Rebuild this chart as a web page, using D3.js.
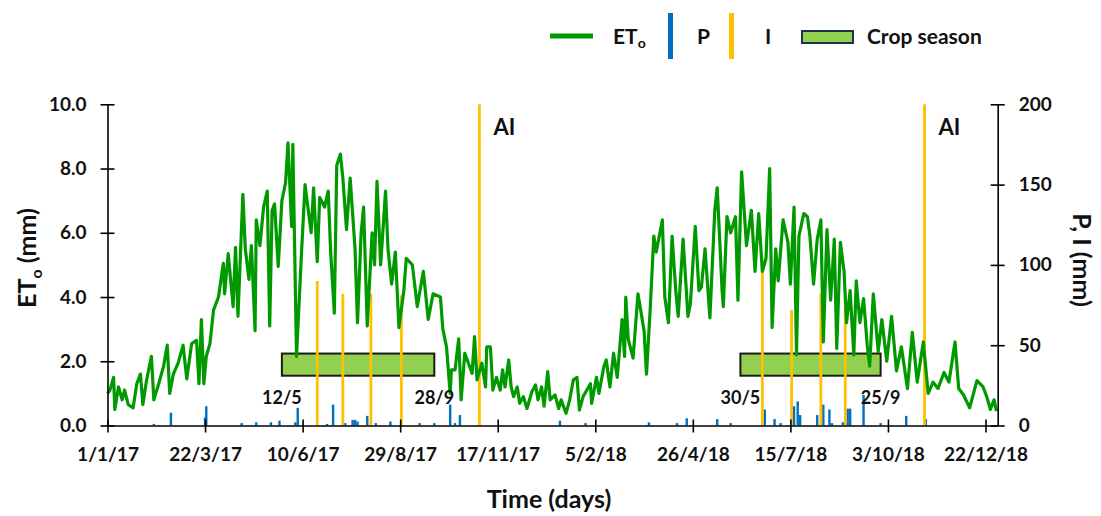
<!DOCTYPE html>
<html>
<head>
<meta charset="utf-8">
<script src="https://cdn.jsdelivr.net/npm/d3@7"></script>
<style>
  body { margin: 0; background: #fff; }
  svg { font-family: Lato, "Open Sans", sans-serif; font-weight: bold; }
</style>
</head>
<body>
<svg class="chart" width="1101" height="516"></svg>
<script>
// days counted from 1/1/2017
const eto2017 = [
  [0,1.0],[2,1.1],[5,1.5],[6,0.5],[9,1.2],[12,0.8],[14,1.1],[17,0.65],[21,0.55],[24,1.3],[27,1.6],[29,0.65],
  [32,1.4],[36,2.15],[38,0.8],[42,1.3],[46,1.85],[49,2.5],[51,1.0],[54,1.6],[58,1.95],[62,2.5],[65,1.45],
  [69,2.55],[73,2.65],[75,1.3],[77,3.3],[79,1.3],[81,2.15],[84,2.55],[87,3.6],[91,4.0],[95,5.05],[96,4.1],
  [99,5.35],[103,3.7],[105,5.55],[107,3.4],[111,7.2],[113,5.5],[116,4.55],[118,5.6],[121,2.95],[122,6.4],
  [125,5.6],[128,6.8],[131,7.3],[133,3.1],[135,6.7],[137,6.9],[140,4.95],[143,7.0],[146,7.55],[148,8.8],
  [151,6.2],[152,8.75],[155,2.15],[159,5.3],[162,7.5],[167,6.0],[169,7.4],[172,5.1],[174,7.1],[178,6.8],
  [181,7.3],[183,5.4],[186,3.5],[188,8.1],[191,8.45],[193,7.7],[196,6.1],[199,7.7],[203,5.5],[205,3.2],
  [208,6.0],[210,6.8],[213,3.1],[217,6.0],[219,5.0],[221,7.6],[224,5.0],[228,7.3],[230,5.5],[233,4.4],
  [236,5.4],[239,3.05],[243,4.2],[245,5.2],[250,5.0],[254,3.7],[259,4.8],[263,3.3],[267,4.1],[273,4.0],
  [275,3.0],[278,2.45],[281,1.0],[282,1.73],[285,1.73],[288,2.7],[290,0.8],[293,2.25],[296,1.94],[299,1.62],
  [301,2.77],[303,1.42],[307,1.94],[310,1.2],[311,2.45],[314,2.45],[316,1.1],[319,1.5],[322,1.1],[324,1.73],
  [326,1.2],[329,2.04],[331,1.2],[333,0.9],[336,1.2],[338,0.69],[341,0.9],[344,0.53],[348,1.05],[351,1.26],
  [353,0.8],[356,1.2],[358,0.6],[361,1.68],[363,0.8]
];
const eto2018 = [
  [367,0.95],[370,0.53],[372,0.8],[376,0.38],[379,0.8],[382,1.42],[385,1.5],[387,0.48],[390,0.9],[393,1.1],
  [396,1.3],[397,0.69],[401,1.5],[403,1.0],[407,1.83],[409,2.04],[412,1.2],[415,2.25],[418,1.5],[422,3.3],
  [424,2.15],[425,4.0],[427,2.7],[431,2.1],[435,4.1],[440,2.95],
  [442,1.6],[445,3.6],[448,5.9],[450,5.4],[455,6.4],[457,4.0],[460,3.2],[463,5.9],[466,4.2],[468,3.4],
  [472,5.8],[476,3.4],[478,3.8],[482,6.2],[485,4.2],[487,4.3],[490,5.5],[494,3.35],[498,6.7],[500,7.4],
  [504,4.2],[505,3.7],[508,6.5],[511,6.0],[515,6.5],[517,3.9],[520,7.9],[524,5.6],[528,6.7],[531,4.8],
  [534,6.6],[537,4.8],[540,5.2],[543,8.0],[545,3.05],[548,5.5],[550,4.5],[554,6.4],[558,5.7],[560,4.4],
  [563,6.8],[565,2.2],[567,5.9],[571,6.6],[574,6.5],[576,5.9],[579,4.4],[582,5.8],[585,6.4],[587,2.6],
  [590,6.1],[593,3.9],[596,5.8],[598,2.4],[601,5.7],[604,4.8],[606,3.2],[609,4.2],[612,2.2],[614,4.5],
  [617,3.2],[620,3.95],[623,2.5],[625,1.85],[628,4.1],[632,2.3],[635,3.3],[639,2.0],[643,3.4],[647,1.7],
  [651,2.45],[656,1.15],[660,2.9],[664,1.35],[669,2.6],[673,1.0],[677,1.35],[681,1.15],[686,1.65],[690,1.35],
  [695,2.6],[698,1.15],[702,0.95],[707,0.55],[713,1.4],[718,1.2],[721,0.9],[724,0.5],[727,0.8],[729,0.45]
];
const rainDay = [38,52,80,81,110,122,134,141,154,156,180,185,195,201,203,205,213,220,232,256,268,281,285,289,
  371,392,444,467,475,500,511,539,547,552,563,566,568,582,587,592,594,603,607,609,620,634,655,671];
const rainMm = [1,8,5,12,1.5,2,2,3,2,11,1,13,1.5,3.5,3.5,2.5,6,1.5,2.5,1.5,1.5,13,1.5,6.5,
  3,1.5,2,1.5,4.5,4,1.5,10,4,1.5,12,15,6.5,6.5,13,10,1.5,2,10.5,10.5,19,1.5,6,4];
const irrDay = [172,193,216,241,305,537,561,585,605,670];
const irrMm = [90,82,82,81,200,100,72,82,74,200];
const seasonStart = [143,519], seasonEnd = [268,634];
const seasonStartLabel = ["12/5","30/5"], seasonEndLabel = ["28/9","25/9"];
const xTickDays = [0,80,160,240,320,400,480,560,640,720];
const yLeftTicks = [0,2,4,6,8,10], yRightTicks = [0,50,100,150,200];

const margin = { top: 104.3, left: 107.5 };
const width = 890.2, height = 321.2;
const day0 = Date.UTC(2017,0,1);
const toDate = d => new Date(day0 + d * 864e5);

const svg = d3.select(".chart").append("g")
  .attr("transform", "translate(" + margin.left + "," + margin.top + ")");

const x = d3.scaleUtc().domain([toDate(0), toDate(730)]).range([0, width]);
const yL = d3.scaleLinear().domain([0,10]).range([height, 0]);
const yR = d3.scaleLinear().domain([0,200]).range([height, 0]);

// crop season boxes
svg.selectAll(".season").data(seasonStart).enter().append("rect")
  .attr("x", (d) => x(toDate(d)))
  .attr("width", (d, i) => x(toDate(seasonEnd[i])) - x(toDate(d)))
  .attr("y", yL(2.24)).attr("height", yL(1.55) - yL(2.24))
  .attr("fill", "#92D050").attr("stroke", "#1a1a1a").attr("stroke-width", 2);

// precipitation
svg.selectAll(".rain").data(rainDay).enter().append("rect")
  .attr("x", d => x(toDate(d)) - 1.2).attr("width", 2.4)
  .attr("y", (d, i) => yR(rainMm[i])).attr("height", (d, i) => height - yR(rainMm[i]))
  .attr("fill", "#0070C0");

// irrigation
svg.selectAll(".irr").data(irrDay).enter().append("rect")
  .attr("x", d => x(toDate(d)) - 1.4).attr("width", 2.8)
  .attr("y", (d, i) => yR(irrMm[i])).attr("height", (d, i) => height - yR(irrMm[i]))
  .attr("fill", "#FFC000");

// ETo line
const line0 = d3.line().x(d => x(toDate(d[0]))).y(d => yL(d[1]));
svg.append("path").datum(eto2017.concat(eto2018))
  .attr("d", line0).attr("fill", "none")
  .attr("stroke", "#009A00").attr("stroke-width", 3.2).attr("stroke-linejoin", "round");

// axes
const xAxis = svg.append("g").attr("transform", "translate(0," + height + ")")
  .call(d3.axisBottom(x).tickValues(xTickDays.map(toDate))
    .tickFormat(d3.utcFormat("%-d/%-m/%y")).tickSize(7).tickSizeOuter(0));
xAxis.selectAll(".tick line").attr("y1", -6);
xAxis.selectAll(".tick text").attr("y", 35).attr("dy", null).style("font-size", "19px");

const yAxisL = svg.append("g")
  .call(d3.axisLeft(yL).tickValues(yLeftTicks).tickFormat(d3.format(".1f")).tickSize(7).tickPadding(14).tickSizeOuter(0));
yAxisL.selectAll(".tick line").attr("x1", 7);
yAxisL.selectAll(".tick text").style("font-size", "19px");

const yAxisR = svg.append("g").attr("transform", "translate(" + width + ",0)")
  .call(d3.axisRight(yR).tickValues(yRightTicks).tickSize(7).tickPadding(14).tickSizeOuter(0));
yAxisR.selectAll(".tick line").attr("x1", -7);
yAxisR.selectAll(".tick text").style("font-size", "19px");

svg.selectAll(".domain, .tick line").attr("stroke", "#000").attr("stroke-width", 1.6);
svg.selectAll(".tick text").attr("fill", "#111").style("font-family", "Lato, sans-serif").style("font-weight", "bold");

// season date labels and AI
svg.selectAll(".sl").data(seasonStart).enter().append("text")
  .attr("x", d => x(toDate(d))).attr("y", yL(0.68)).attr("text-anchor", "middle")
  .style("font-size", "18px").attr("fill", "#111").text((d, i) => seasonStartLabel[i]);
svg.selectAll(".el").data(seasonEnd).enter().append("text")
  .attr("x", d => x(toDate(d))).attr("y", yL(0.68)).attr("text-anchor", "middle")
  .style("font-size", "18px").attr("fill", "#111").text((d, i) => seasonEndLabel[i]);
svg.selectAll(".ai").data(irrDay.filter((d, i) => irrMm[i] === 200)).enter().append("text")
  .attr("x", d => x(toDate(d)) + 14).attr("y", 31)
  .style("font-size", "22px").attr("fill", "#111").text("AI");

// axis titles
const root = d3.select(".chart");
const tl = root.append("text").attr("transform", "translate(36,258) rotate(-90)")
  .attr("text-anchor", "middle").style("font-size", "25px").attr("fill", "#111");
tl.append("tspan").text("ET");
tl.append("tspan").text("o").style("font-size", "16px").attr("dy", 6);
tl.append("tspan").text(" (mm)").attr("dy", -6);

root.append("text").attr("transform", "translate(1073,260) rotate(90)")
  .attr("text-anchor", "middle").style("font-size", "25px").attr("fill", "#111").text("P, I (mm)");

root.append("text").attr("x", 549).attr("y", 508).attr("text-anchor", "middle")
  .style("font-size", "25px").attr("fill", "#111").text("Time (days)");

// legend
const lg = root.append("g");
lg.append("line").attr("x1", 550).attr("x2", 593).attr("y1", 36).attr("y2", 36)
  .attr("stroke", "#009A00").attr("stroke-width", 5);
const lt = lg.append("text").attr("x", 613).attr("y", 44).style("font-size", "21px").attr("fill", "#111");
lt.append("tspan").text("ET");
lt.append("tspan").text("o").style("font-size", "14px").attr("dy", 4);
lg.append("rect").attr("x", 668).attr("y", 13).attr("width", 5).attr("height", 46).attr("fill", "#0070C0");
lg.append("text").attr("x", 697).attr("y", 44).style("font-size", "21px").attr("fill", "#111").text("P");
lg.append("rect").attr("x", 729).attr("y", 13).attr("width", 5).attr("height", 46).attr("fill", "#FFC000");
lg.append("text").attr("x", 765).attr("y", 44).style("font-size", "21px").attr("fill", "#111").text("I");
lg.append("rect").attr("x", 802).attr("y", 31).attr("width", 51).attr("height", 12)
  .attr("fill", "#92D050").attr("stroke", "#1F3050").attr("stroke-width", 2);
lg.append("text").attr("x", 867).attr("y", 44).style("font-size", "21px").attr("fill", "#111").text("Crop season");
</script>
</body>
</html>
